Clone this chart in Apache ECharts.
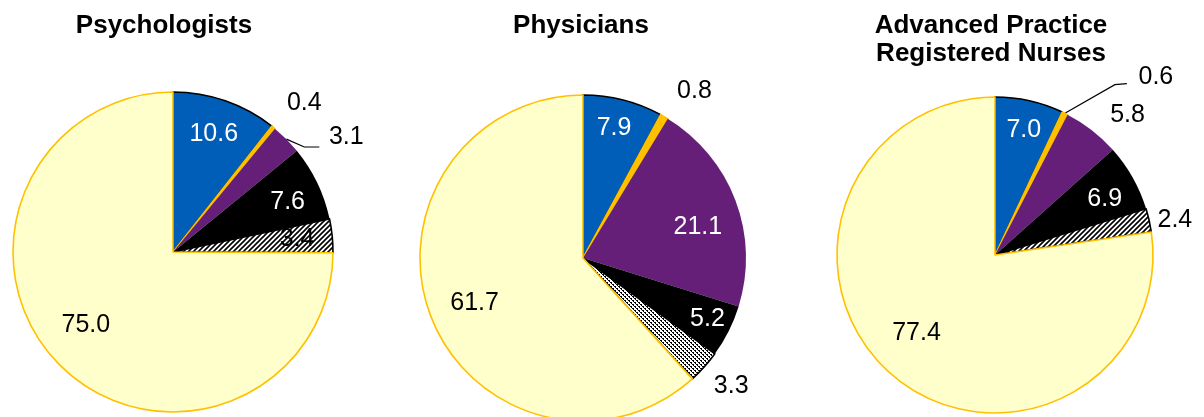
<!DOCTYPE html>
<html>
<head>
<meta charset="utf-8">
<script src="https://cdn.jsdelivr.net/npm/echarts@6/dist/echarts.min.js"></script>
<style>
html,body{margin:0;padding:0;background:#fff;}
#chart{width:1204px;height:417px;}
</style>
</head>
<body>
<div id="chart"></div>
<script>
// ---- data ----
var categories = ['Blue', 'Orange', 'Purple', 'Black', 'Hatched', 'Yellow'];
var titles = ['Psychologists', 'Physicians', 'Advanced Practice\nRegistered Nurses'];
var psychologists = [10.6, 0.4, 3.1, 7.6, 3.4, 75.0];
var physicians = [7.9, 0.8, 21.1, 5.2, 3.3, 61.7];
var nurses = [7.0, 0.6, 5.8, 6.9, 2.4, 77.4];
var seriesValues = [psychologists, physicians, nurses];

// ---- layout / style ----
var centers = [[173, 252], [583, 258], [995, 255]];
var radii = [160, 163, 158];
var titleX = [164, 581, 991];
// label placement: [radial factor, angle offset deg] per slice
var labelPlace = [
  [[0.78, 0], [1.24, 2.6], [1.30, 11.3], [0.78, 2.3], [0.78, 0], [0.71, 5]],
  [[0.82, -0.8], [1.23, 3.9], [0.73, 5.6], [0.85, -0.6], [1.2, -1.2], [0.72, -1.5]],
  [[0.81, 0.4], [1.52, 15.8], [1.22, 5.7], [0.78, 2.3], [1.16, 1.6], [0.70, 4.4]]
];
// leader lines: [seriesIndex, dataIndex, elbowDx, elbowDy, endDx, endDy] relative to label center
var leaders = [[0, 2, -42, 10, -27, 10], [2, 1, -41, 8, -29, 7]];

function makePattern(kind) {
  var c = document.createElement('canvas');
  var ctx;
  if (kind === 'diag') {
    c.width = 5; c.height = 5;
    ctx = c.getContext('2d');
    ctx.fillStyle = '#fff'; ctx.fillRect(0, 0, 5, 5);
    ctx.strokeStyle = '#000'; ctx.lineWidth = 1.6;
    ctx.beginPath();
    ctx.moveTo(-1, 6); ctx.lineTo(6, -1);
    ctx.moveTo(-1, 1); ctx.lineTo(1, -1);
    ctx.moveTo(4, 6); ctx.lineTo(6, 4);
    ctx.stroke();
  } else {
    c.width = 4; c.height = 4;
    ctx = c.getContext('2d');
    ctx.fillStyle = '#fff'; ctx.fillRect(0, 0, 4, 4);
    ctx.fillStyle = '#000';
    ctx.fillRect(0, 0, 2, 1);
    ctx.fillRect(2, 2, 2, 1);
    ctx.fillRect(1, 1, 1, 1);
    ctx.fillRect(3, 3, 1, 1);
  }
  return {image: c, repeat: 'repeat'};
}

var fills = ['#005EB8', '#FFC000', '#661F78', '#000000', null, '#FFFFCC'];
var borders = ['#000000', '#FFC000', '#661F78', '#000000', '#000000', '#FFC000'];
var labelColors = ['#fff', '#000', null, '#fff', '#000', '#000'];

var chart = echarts.init(document.getElementById('chart'), null, {renderer: 'canvas'});

function buildSeries(si) {
  var vals = seriesValues[si];
  var pat = makePattern(si === 1 ? 'dots' : 'diag');
  var data = vals.map(function (v, i) {
    var lc = labelColors[i];
    if (i === 2) lc = (si === 1) ? '#fff' : '#000';
    var isLeader = leaders.some(function (l) { return l[0] === si && l[1] === i; });
    return {
      name: categories[i],
      value: v,
      itemStyle: {
        color: i === 4 ? pat : fills[i],
        borderColor: borders[i],
        borderWidth: (i === 2 || i === 3) ? 0 : 1.6
      },
      label: {color: lc},
      labelLine: {show: isLeader, lineStyle: {color: '#000', width: 1.2}, smooth: false}
    };
  });
  var total = vals.reduce(function (a, b) { return a + b; }, 0);
  var c = centers[si], R = radii[si];
  return {
    type: 'pie',
    center: c,
    radius: [0, R],
    startAngle: 90,
    clockwise: true,
    avoidLabelOverlap: false,
    silent: true,
    animation: false,
    label: {
      show: true,
      position: 'outside',
      formatter: function (p) { return p.value.toFixed(1); },
      fontFamily: 'Liberation Sans, Arial, sans-serif',
      fontSize: 25,
      color: '#000'
    },
    labelLine: {show: false, length: 10, length2: 10},
    labelLayout: function (params) {
      var i = params.dataIndex;
      var cum = 0;
      for (var k = 0; k < i; k++) cum += vals[k];
      var mid = (cum + vals[i] / 2) / total * 360;
      var pl = labelPlace[si][i];
      var th = (mid + pl[1]) * Math.PI / 180;
      var x = c[0] + pl[0] * R * Math.sin(th);
      var y = c[1] - pl[0] * R * Math.cos(th);
      var out = {x: x, y: y, align: 'center', verticalAlign: 'middle'};
      leaders.forEach(function (l) {
        if (l[0] === si && l[1] === i) {
          var m = mid * Math.PI / 180;
          out.labelLinePoints = [
            [c[0] + R * Math.sin(m), c[1] - R * Math.cos(m)],
            [x + l[2], y + l[3]],
            [x + l[4], y + l[5]]
          ];
        }
      });
      return out;
    },
    data: data
  };
}

var graphics = titles.map(function (t, i) {
  return {
    type: 'text',
    x: titleX[i],
    y: 12,
    silent: true,
    style: {
      text: t,
      fill: '#000',
      font: 'bold 26px "Liberation Sans", Arial, sans-serif',
      textAlign: 'center',
      textVerticalAlign: 'top',
      lineHeight: 28
    }
  };
});

chart.setOption({
  backgroundColor: '#fff',
  animation: false,
  graphic: graphics,
  series: [buildSeries(0), buildSeries(1), buildSeries(2)]
});
</script>
</body>
</html>
